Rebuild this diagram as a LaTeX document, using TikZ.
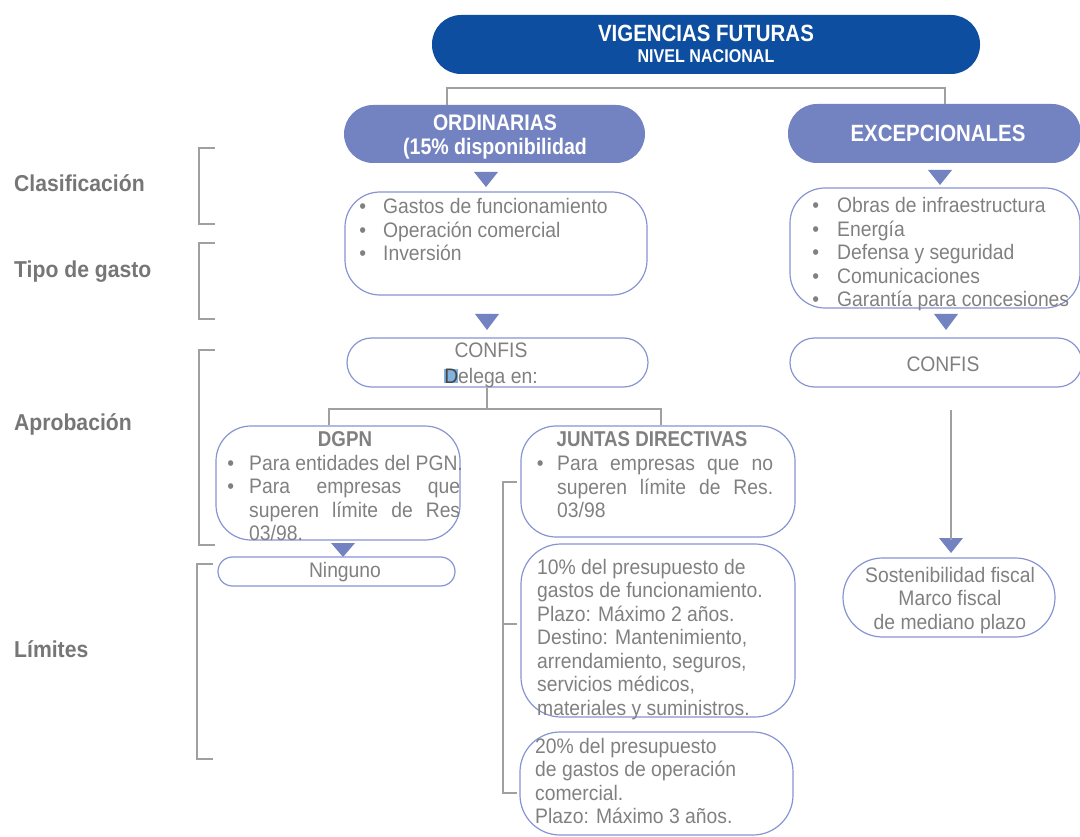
\documentclass[tikz,border=0pt]{standalone}
\usepackage{fontspec}
\setmainfont{Liberation Sans}[FakeStretch=0.92]
\newfontfamily\cond{Liberation Sans}[FakeStretch=0.87]
\usetikzlibrary{calc}
\definecolor{navy}{RGB}{13,78,160}
\definecolor{slate}{RGB}{115,130,192}
\definecolor{outl}{RGB}{135,148,210}
\definecolor{gline}{RGB}{160,160,160}
\definecolor{txtc}{RGB}{128,128,128}
\definecolor{labc}{RGB}{118,118,118}
\definecolor{hl}{RGB}{130,178,222}
\setlength{\fboxsep}{0pt}
\newcommand\bul[1]{\llap{\textbullet\hspace{#1pt}}}
\begin{document}
\begin{tikzpicture}[x=1pt,y=-1pt,
 obox/.style={draw=outl,line width=1.2pt,rounded corners=#1,inner sep=0pt},
 obox/.default=35pt,
 fbox/.style={fill=#1,draw=none,rounded corners=29pt,inner sep=0pt},
 gl/.style={draw=gline,line width=2pt},
 tri/.style={fill=slate},
 txt/.style={font=\fontsize{21}{23.5}\selectfont,text=txtc,inner sep=0pt},
 lt/.style={txt,anchor=base west},
 ct/.style={txt,anchor=base},
 labs/.style={font=\bfseries\fontsize{23}{26}\selectfont,text=labc,inner sep=0pt,anchor=base west},
 wt/.style={font=\cond\bfseries\fontsize{23.5}{26}\selectfont,text=white,inner sep=0pt,anchor=base},
 gt/.style={font=\cond\bfseries\fontsize{21.5}{24}\selectfont,text=txtc,inner sep=0pt,anchor=base},
]
\useasboundingbox (0,0) rectangle (1080,837);

% top
\node[fbox=navy,minimum width=548pt,minimum height=59pt] (top) at (706,44.5) {};
\node[wt] (topa) at (706,42) {VIGENCIAS FUTURAS};
\node[wt,font=\cond\bfseries\fontsize{18.5}{20}\selectfont] (topb) at (706,63) {NIVEL NACIONAL};

% level 2
\node[fbox=slate,minimum width=301pt,minimum height=58pt] (ord) at (494.5,134) {};
\node[wt,font=\cond\bfseries\fontsize{22.5}{25}\selectfont] (orda) at (495,130.5) {ORDINARIAS};
\node[wt,font=\cond\bfseries\fontsize{22.5}{25}\selectfont] (ordb) at (495,154.5) {(15\% disponibilidad};
\node[fbox=slate,minimum width=293pt,minimum height=59pt] (exc) at (934.5,133.5) {};
\node[wt] (exca) at (938,142) {EXCEPCIONALES};

\coordinate (ca) at (447,88);
\coordinate (cb) at (945,88);
\draw[gl] (ca |- ord.north) -- (ca) -- (cb) -- (cb |- exc.north);

% triangles
\fill[tri] (474,172) -- (498,172) -- (486,187) -- cycle;
\fill[tri] (928,170) -- (952,170) -- (940,185) -- cycle;
\fill[tri] (475,314) -- (499,314) -- (487,330) -- cycle;
\fill[tri] (934,314) -- (958,314) -- (946,330) -- cycle;
\fill[tri] (331,543) -- (355,543) -- (343,557) -- cycle;
\fill[tri] (939,538) -- (963,538) -- (951,553) -- cycle;

% lists
\node[obox,minimum width=302pt,minimum height=103pt] (ordl) at (496,243.5) {};
\node[lt] (o1) at (383,214) {\bul{17}Gastos de funcionamiento};
\node[lt] (o2) at (383,237.5) {\bul{17}Operación comercial};
\node[lt] (o3) at (383,261) {\bul{17}Inversión};

\node[obox,minimum width=290pt,minimum height=120pt] (excl) at (935,248) {};
\node[lt] (e1) at (837,213) {\bul{18}Obras de infraestructura};
\node[lt] (e2) at (837,236.5) {\bul{18}Energía};
\node[lt] (e3) at (837,260) {\bul{18}Defensa y seguridad};
\node[lt] (e4) at (837,283.5) {\bul{18}Comunicaciones};
\node[lt] (e5) at (837,307) {\bul{18}Garantía para concesiones};

% CONFIS
\node[obox=24.5pt,minimum width=301pt,minimum height=49pt] (confo) at (497.5,362.5) {};
\node[ct] (cf1) at (491,358) {CONFIS};
\node[ct] (cf2) at (491,383) {\colorbox{hl}{\textcolor{txtc!55!black}{D}}elega en:};
\node[obox=24.5pt,minimum width=292pt,minimum height=49pt] (confe) at (936,362.5) {};
\node[ct] (cf3) at (943,371) {CONFIS};

% DGPN
\node[obox,minimum width=244pt,minimum height=114pt] (dgpn) at (338,483) {};
\node[gt] (dg0) at (345,446) {DGPN};
\node[lt] (dg1) at (249,470) {\bul{15}Para entidades del PGN.};
\node[lt] (dg2) at (249,493.5) {\bul{15}\makebox[211pt][s]{Para empresas que}};
\node[lt] (dg3) at (249,517) {\makebox[211pt][s]{superen límite de Res}};
\node[lt] (dg4) at (249,540.5) {03/98.};

\node[obox=14.5pt,minimum width=237pt,minimum height=29pt] (ning) at (336.5,571.5) {};
\node[ct] (ng) at (345,577) {Ninguno};

% JUNTAS
\node[obox,minimum width=274pt,minimum height=111pt] (junta) at (658,481.5) {};
\node[gt] (jd0) at (652,446) {JUNTAS DIRECTIVAS};
\node[lt] (jd1) at (557,470) {\bul{13.5}\makebox[216pt][s]{Para empresas que no}};
\node[lt] (jd2) at (557,494) {\makebox[216pt][s]{superen límite de Res.}};
\node[lt] (jd3) at (557,517) {03/98};

% tree
\coordinate (tj) at (487,409);
\coordinate (tl) at (329,409);
\coordinate (tr) at (661,409);
\draw[gl] (confo.south -| tj) -- (tj);
\draw[gl] (tl |- dgpn.north) -- (tl) -- (tr) -- (tr |- junta.north);

\draw[gl] (517,482) -- (503,482) -- (503,793) -- (517,793);
\draw[gl] (503,624) -- (517,624);

\node[obox=40pt,minimum width=274pt,minimum height=173pt] (p10) at (658,630.5) {};
\node[lt] (a1) at (537,574) {10\% del presupuesto de};
\node[lt] (a2) at (537,597.5) {gastos de funcionamiento.};
\node[lt] (a3) at (537,621) {Plazo: Máximo 2 años.};
\node[lt] (a4) at (537,644.5) {Destino: Mantenimiento,};
\node[lt] (a5) at (537,668) {arrendamiento, seguros,};
\node[lt] (a6) at (537,691.5) {servicios médicos,};
\node[lt] (a7) at (537,715) {materiales y suministros.};

\node[obox=40pt,minimum width=273pt,minimum height=103pt] (p20) at (656.5,783.5) {};
\node[lt] (b1) at (535,753) {20\% del presupuesto};
\node[lt] (b2) at (535,776.5) {de gastos de operación};
\node[lt] (b3) at (535,800) {comercial.};
\node[lt] (b4) at (535,823.5) {Plazo: Máximo 3 años.};

% exc arrow
\coordinate (ea) at (951,410);
\coordinate (eb) at (951,540);
\draw[gl] (ea) -- (eb);
\node[obox=39.5pt,minimum width=212pt,minimum height=79pt] (sost) at (949,597.5) {};
\node[ct] (s1) at (950,582) {Sostenibilidad fiscal};
\node[ct] (s2) at (950,605.5) {Marco fiscal};
\node[ct] (s3) at (950,629) {de mediano plazo};

% left labels and brackets
\node[labs] (l1) at (14,192) {Clasificación};
\node[labs] (l2) at (14,278) {Tipo de gasto};
\node[labs] (l3) at (14,430) {Aprobación};
\node[labs] (l4) at (14,657) {Límites};
\draw[gl] (215,148) -- (199,148) -- (199,224) -- (215,224);
\draw[gl] (215,243) -- (199,243) -- (199,319) -- (215,319);
\draw[gl] (215,350) -- (199,350) -- (199,545) -- (215,545);
\draw[gl] (213,564) -- (197,564) -- (197,759) -- (213,759);
\end{tikzpicture}
\end{document}
